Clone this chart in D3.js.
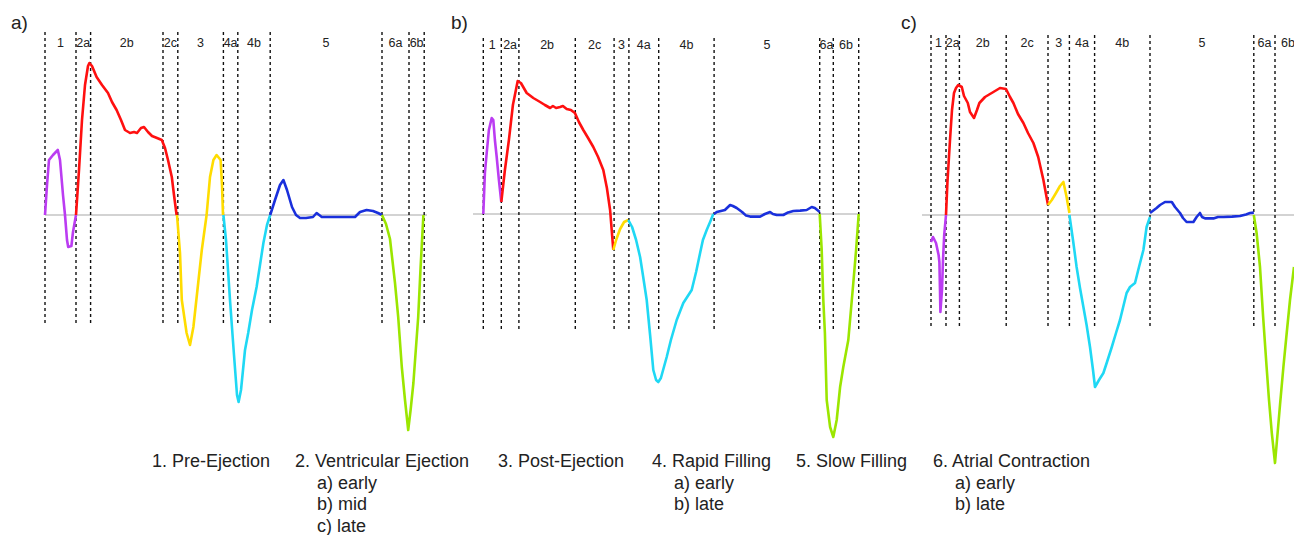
<!DOCTYPE html>
<html>
<head>
<meta charset="utf-8">
<script src="https://cdn.jsdelivr.net/npm/d3@7"></script>
<style>
  body { margin: 0; background: #fff; }
  svg text { font-family: "Liberation Sans", Arial, Helvetica, sans-serif; fill: #222; }
</style>
</head>
<body>
<div id="wrapper"></div>
<script>
// phase labels + colours
const phaseLabels = ["1", "2a", "2b", "2c", "3", "4a", "4b", "5", "6a", "6b"]
const phaseColors = ["#bb3cf2", "#ff1010", "#ffdc00", "#1fd8f4", "#1a30dc", "#9be600"]

// phase boundaries (ms from start of cycle)
const boundsA = [0, 77.5, 114, 295, 332, 446, 482, 563, 842.5, 910, 948]
const boundsB = [0, 45, 89, 230, 327, 364, 438.5, 577, 841, 875, 938.5]
const boundsC = [0, 37.5, 71, 188, 292.5, 346, 409, 547.5, 807, 860, 925]

// panel a) velocity curve, [ms, value], one array per phase
const aPre = [[0,0],[5,1.5],[10,2.75],[20,3],[32,3.25],[37.5,2.75],[45,1],[50,0],[55,-1.25],[58,-1.6],[66,-1.55],[70,-0.85],[77.5,0]]
const aEject = [[77.5,0],[85,2.25],[92.5,4.75],[100,6.5],[107.5,7.45],[111,7.6],[117.5,7.45],[129,6.9],[142.5,6.5],[157.5,6.1],[167.5,5.65],[179,5.25],[190,4.75],[200,4.25],[212.5,4.1],[222.5,4.15],[230,4.1],[240,4.35],[247.5,4.4],[257.5,4.15],[267.5,3.95],[280,3.85],[292,3.75],[300,3.35],[307.5,2.75],[317,1.9],[322.5,1],[329,0]]
const aPost = [[330,0],[337.5,-1.9],[342,-4.25],[354,-5.9],[362.5,-6.5],[371,-5.6],[383,-3.4],[392,-1.75],[404,0],[412.5,1.9],[421,2.75],[429,3],[439,2.75],[442.5,1.5],[445,0]]
const aRapid = [[446,0],[452.5,-1.25],[462.5,-4.25],[472.5,-7],[480,-9],[484,-9.35],[490,-8.75],[500,-6.75],[508,-5.9],[517.5,-4.75],[529,-3.6],[537.5,-2.5],[546,-1.4],[555,-0.5],[563,0]]
const aSlow = [[563,0],[575,0.75],[587.5,1.5],[596,1.75],[605,1.25],[617.5,0.4],[627.5,0],[637.5,-0.15],[652.5,-0.15],[670,-0.1],[679,0.1],[692,-0.1],[737.5,-0.1],[775,-0.1],[787.5,0.15],[804,0.25],[820,0.2],[832.5,0.1],[842.5,0]]
const aAtrial = [[842.5,0],[852.5,-0.45],[862.5,-1.2],[875,-3.4],[883,-5.1],[892,-7.6],[900,-9.25],[908,-10.75],[914,-9.75],[921,-8.4],[933,-5.1],[939,-2.6],[946,0]]

// panel b)
const bPre = [[0,0],[4,2.05],[8.5,3.05],[14,4.2],[21,4.8],[25,4.7],[29,3.7],[33.5,2.85],[39,1.7],[45,0.6]]
const bEject = [[45,0.6],[54,2.2],[64,3.7],[74,5.45],[86,6.65],[94,6.55],[108.5,6.05],[125,5.8],[142,5.6],[154,5.45],[167,5.3],[174,5.4],[182,5.3],[192,5.35],[199,5.4],[208.5,5.25],[219,5.2],[229,5.05],[239,4.6],[250,4.2],[262,3.8],[275,3.35],[287,2.85],[300,2.2],[309,1.3],[317,0.2],[322,-1.05],[325,-1.8]]
const bPost = [[325,-1.8],[332,-1.3],[342,-0.75],[352,-0.4],[362.5,-0.3]]
const bRapid = [[362.5,-0.3],[372,-0.65],[382,-1.3],[392,-2.15],[399,-3.05],[408.5,-4.3],[417,-6.05],[425,-7.8],[432,-8.3],[437.5,-8.4],[444,-8.2],[458.5,-7.15],[469,-6.3],[483.5,-5.3],[500,-4.45],[521,-3.8],[532,-2.9],[542,-1.95],[549,-1.3],[558.5,-0.8],[567,-0.4],[575,0]]
const bSlow = [[577,0],[583.5,0.1],[594,0.15],[604,0.2],[617,0.45],[624,0.4],[633.5,0.3],[647,0.1],[657,-0.08],[667,-0.13],[692,-0.13],[704,0],[717,0.1],[724,0],[733.5,-0.05],[750,-0.05],[762,0.08],[775,0.15],[792,0.17],[808.5,0.2],[821,0.35],[829,0.3],[841,0.1]]
const bAtrial = [[841,0],[846,-1.8],[850,-4.3],[854,-5.95],[858.5,-9.3],[867,-10.65],[875,-11.15],[883.5,-10.3],[892,-8.65],[900,-7.65],[912.5,-6.3],[925,-3.45],[932,-1.8],[938.5,0]]

// panel c)
const cPre = [[0,-1.35],[5,-1.1],[12.5,-1.4],[19,-2],[21,-2.35],[22.5,-3.75],[23.5,-4.85],[27.5,-3.75],[30,-2.25],[33,-1],[37.5,0]]
const cEject = [[37.5,0],[41,1.6],[47.5,3.75],[52.5,5.25],[57.5,6.1],[62.5,6.35],[68,6.5],[77,6.4],[82.5,5.95],[92,5.6],[97.5,5.15],[107.5,4.85],[115,5.25],[121,5.6],[135,5.9],[147.5,6.05],[156,6.15],[172.5,6.35],[187.5,6.3],[197.5,5.9],[206,5.6],[217.5,5.05],[231,4.6],[242.5,4.1],[256,3.6],[268,2.9],[281,1.75],[292.5,0.5]]
const cPost = [[292.5,0.5],[302,0.75],[312.5,1.1],[322.5,1.45],[331,1.65],[339,0.9],[346,0.1]]
const cRapid = [[346,0],[355,-1.25],[364,-2.6],[372.5,-3.65],[381,-4.6],[389,-5.5],[397.5,-6.6],[405,-7.75],[410,-8.6],[420,-8.25],[431,-7.9],[440,-7.35],[452,-6.6],[462.5,-5.9],[472.5,-5.25],[489,-3.9],[497.5,-3.6],[510,-3.4],[520,-2.6],[531,-1.75],[539,-0.6],[547.5,-0.1]]
const cSlow = [[547.5,0.1],[564,0.35],[572.5,0.5],[585,0.65],[602,0.65],[610,0.4],[622.5,0.1],[630,-0.15],[639,-0.35],[656,-0.35],[664,-0.1],[672.5,0.1],[677.5,-0.1],[685,-0.17],[706,-0.17],[717.5,-0.1],[731,-0.1],[752.5,-0.08],[772.5,-0.05],[787.5,0.03],[797.5,0.1],[807,0.12]]
const cAtrial = [[807,0],[814,-0.9],[822.5,-2.6],[830,-5],[839,-7.6],[845,-9.25],[852,-10.9],[860,-12.4],[865,-11.25],[872.5,-9.5],[881,-7.6],[890,-5.75],[897.5,-4.25],[907.5,-2.6]]

// legend text
const legendCols = [
  ["1. Pre-Ejection"],
  ["2. Ventricular Ejection", "a) early", "b) mid", "c) late"],
  ["3. Post-Ejection"],
  ["4. Rapid Filling", "a) early", "b) late"],
  ["5. Slow Filling"],
  ["6. Atrial Contraction", "a) early", "b) late"]
]

const dimensions = { width: 1294, height: 535 }

const panels = [
  { name: "a)", x0: 45, base: 215, top: 32, bottom: 325, labelY: 43, lineFrom: 45, lineTo: 427, labelX: 11,
    bounds: boundsA, phases: [aPre, aEject, aPost, aRapid, aSlow, aAtrial] },
  { name: "b)", x0: 483.3, base: 214, top: 38, bottom: 332, labelY: 45, lineFrom: 473, lineTo: 860, labelX: 451,
    bounds: boundsB, phases: [bPre, bEject, bPost, bRapid, bSlow, bAtrial] },
  { name: "c)", x0: 931, base: 215, top: 35, bottom: 327, labelY: 43, lineFrom: 922, lineTo: 1294, labelX: 901,
    bounds: boundsC, phases: [cPre, cEject, cPost, cRapid, cSlow, cAtrial] }
]

const wrapper = d3.select("#wrapper").append("svg")
  .attr("width", dimensions.width)
  .attr("height", dimensions.height)

panels.forEach(p => {
  // 1 px = 2.5 ms, 20 px per unit
  const xScale = d3.scaleLinear().domain([0, 1000]).range([p.x0, p.x0 + 400])
  const yScale = d3.scaleLinear().domain([-12, 9]).range([p.base + 240, p.base - 180])

  const g = wrapper.append("g")

  g.append("text")
    .attr("x", p.labelX).attr("y", 29)
    .style("font-size", "19px")
    .text(p.name)

  // zero line
  g.append("line")
    .attr("x1", p.lineFrom).attr("x2", p.lineTo)
    .attr("y1", yScale(0)).attr("y2", yScale(0))
    .attr("stroke", "#c4c4c4").attr("stroke-width", 1.3)

  // phase boundaries
  g.selectAll(".bound")
    .data(p.bounds)
    .enter().append("line")
    .attr("x1", d => xScale(d)).attr("x2", d => xScale(d))
    .attr("y1", p.top).attr("y2", p.bottom)
    .attr("stroke", "#111").attr("stroke-width", 1.4)
    .attr("stroke-dasharray", "3,3")

  // phase labels centred between boundaries
  g.selectAll(".plabel")
    .data(phaseLabels)
    .enter().append("text")
    .attr("x", (d, i) => xScale((p.bounds[i] + p.bounds[i + 1]) / 2))
    .attr("y", p.labelY)
    .attr("dy", "0.35em")
    .attr("text-anchor", "middle")
    .style("font-size", "12.5px")
    .text(d => d)

  const line = d3.line()
    .x(d => xScale(d[0]))
    .y(d => yScale(d[1]))

  g.selectAll(".seg")
    .data(p.phases)
    .enter().append("path")
    .attr("d", line)
    .attr("fill", "none")
    .attr("stroke", (d, i) => phaseColors[i])
    .attr("stroke-width", 2.6)
    .attr("stroke-linejoin", "round")
})

// legend
const legendX = [152, 295, 498, 652, 796, 933]
const subIndent = [0, 22, 0, 22, 0, 22]
const legend = wrapper.append("g")
legendCols.forEach((col, i) => {
  legend.selectAll(null)
    .data(col)
    .enter().append("text")
    .attr("x", (d, j) => legendX[i] + (j > 0 ? subIndent[i] : 0))
    .attr("y", (d, j) => 467 + j * 21.6)
    .style("font-size", "18px")
    .text(d => d)
})
</script>
</body>
</html>
